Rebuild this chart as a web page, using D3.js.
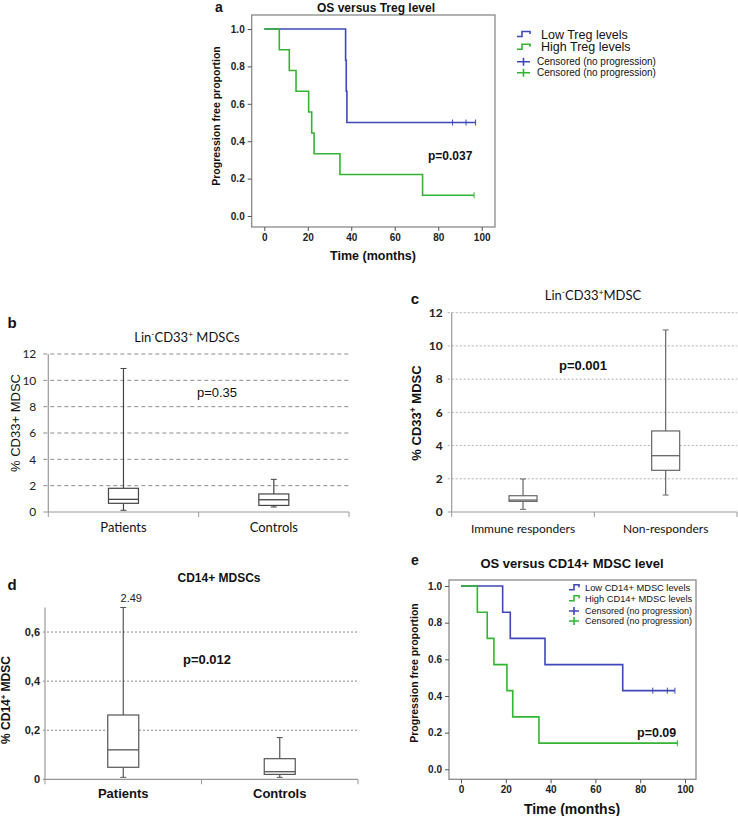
<!DOCTYPE html>
<html>
<head>
<meta charset="utf-8">
<script src="https://cdn.jsdelivr.net/npm/d3@7"></script>
<style>
  body { margin: 0; background: #fff; }
  svg { display: block; }
</style>
</head>
<body>
<script>
// ---- panel a: Kaplan-Meier, Treg level ----
const lowTregTime = [0, 37.4, 37.7, 38.0, 97.2];
const lowTregSurv = [1, 0.833, 0.667, 0.5, 0.5];
const lowTregCensor = [86.6, 92.8, 97.2];
const highTregTime = [0, 6.9, 11.5, 14.6, 20.4, 21.8, 22.9, 34.8, 72.8, 96.5];
const highTregSurv = [1, 0.889, 0.778, 0.667, 0.556, 0.444, 0.333, 0.222, 0.111, 0.111];
const highTregCensor = [96.5];

// ---- panel e: Kaplan-Meier, CD14+ MDSC level ----
const lowCd14Time = [0, 18.6, 22.0, 37.5, 72.2, 95.5];
const lowCd14Surv = [1, 0.857, 0.714, 0.571, 0.429, 0.429];
const lowCd14Censor = [85.6, 92.1, 95.5];
const highCd14Time = [0, 7.3, 11.7, 14.7, 20.5, 23.1, 34.8, 96.6];
const highCd14Surv = [1, 0.857, 0.714, 0.571, 0.429, 0.286, 0.143, 0.143];
const highCd14Censor = [96.6];

const kmTicksX = [0, 20, 40, 60, 80, 100];
const kmTicksY = [0, 0.2, 0.4, 0.6, 0.8, 1.0];

// ---- panel b: Lin-CD33+ MDSCs, patients vs controls ----
const cd33Groups = ["Patients", "Controls"];
const cd33Min = [0.13, 0.38];
const cd33Q1 = [0.66, 0.5];
const cd33Med = [0.96, 0.93];
const cd33Q3 = [1.8, 1.37];
const cd33Max = [10.9, 2.48];

// ---- panel c: Lin-CD33+ MDSC, responders ----
const respGroups = ["Immune responders", "Non-responders"];
const respMin = [0.16, 1.02];
const respQ1 = [0.64, 2.51];
const respMed = [0.72, 3.39];
const respQ3 = [0.98, 4.88];
const respMax = [1.99, 10.96];

const cd33TicksY = [0, 2, 4, 6, 8, 10, 12];

// ---- panel d: CD14+ MDSCs ----
const cd14Groups = ["Patients", "Controls"];
const cd14Min = [0.008, 0.008];
const cd14Q1 = [0.049, 0.02];
const cd14Med = [0.12, 0.031];
const cd14Q3 = [0.262, 0.084];
const cd14Max = [2.49, 0.17];
const cd14TicksY = [0, 0.2, 0.4, 0.6];

const BLUE = "#3f48b8";
const GREEN = "#33b533";
const ARIAL = "'Liberation Sans', Arial, sans-serif";
const CALIBRI = "Lato, 'Open Sans', sans-serif";

const svg = d3.select("body").append("svg")
  .attr("width", 738)
  .attr("height", 816);

// text helper; parts can be strings or [text] for a superscript
function label(g, x, y, parts, opts) {
  const t = g.append("text")
    .attr("x", x).attr("y", y)
    .attr("font-family", opts.font || ARIAL)
    .attr("font-size", opts.size || 12)
    .attr("font-weight", opts.bold ? "bold" : "normal")
    .attr("fill", opts.color || "#111")
    .attr("text-anchor", opts.anchor || "middle");
  if (opts.rotate) t.attr("transform", `rotate(-90,${x},${y})`);
  (Array.isArray(parts) ? parts : [parts]).forEach(p => {
    if (Array.isArray(p)) {
      t.append("tspan").attr("baseline-shift", "super")
        .attr("font-size", (opts.size || 12) * 0.65).text(p[0]);
    } else {
      t.append("tspan").text(p);
    }
  });
  return t;
}

function kmPanel(cfg) {
  const g = svg.append("g");
  const x = d3.scaleLinear().domain([0, 100]).range(cfg.xRange);
  const y = d3.scaleLinear().domain([0, 1]).range(cfg.yRange);

  // frame
  g.append("rect")
    .attr("x", cfg.frame[0]).attr("y", cfg.frame[1])
    .attr("width", cfg.frame[2] - cfg.frame[0])
    .attr("height", cfg.frame[3] - cfg.frame[1])
    .attr("fill", "none").attr("stroke", "#8a8a8a").attr("stroke-width", 1.3);

  const ax = g.append("g")
    .attr("transform", `translate(0,${cfg.frame[3]})`)
    .call(d3.axisBottom(x).tickValues(kmTicksX).tickSize(4).tickPadding(3));
  const ay = g.append("g")
    .attr("transform", `translate(${cfg.frame[0]},0)`)
    .call(d3.axisLeft(y).tickValues(kmTicksY).tickFormat(d3.format(".1f")).tickSize(4).tickPadding(3));
  [ax, ay].forEach(a => {
    a.select(".domain").remove();
    a.selectAll("line").attr("stroke", "#555");
    a.selectAll("text").attr("font-family", ARIAL).attr("font-size", cfg.tickSize)
      .attr("font-weight", "bold").attr("fill", "#222");
  });

  const line = d3.line().x(d => x(d[0])).y(d => y(d[1])).curve(d3.curveStepAfter);
  cfg.series.forEach(s => {
    const pts = s.time.map((t, i) => [t, s.surv[i]]);
    g.append("path").attr("d", line(pts))
      .attr("fill", "none").attr("stroke", s.color).attr("stroke-width", 1.6);
    const last = s.surv[s.surv.length - 1];
    g.selectAll(null).data(s.censor).enter().append("line")
      .attr("x1", d => x(d)).attr("x2", d => x(d))
      .attr("y1", y(last) - 3).attr("y2", y(last) + 3)
      .attr("stroke", s.color).attr("stroke-width", 1);
  });

  // legend
  const lg = cfg.legend;
  cfg.series.forEach((s, i) => {
    const cy = lg.rows[i];
    g.append("path")
      .attr("d", `M${lg.x0},${cy + 2.5}H${lg.x0 + 5}V${cy - 2.5}H${lg.x1}V${cy}`)
      .attr("fill", "none").attr("stroke", s.color).attr("stroke-width", 1.6);
    label(g, lg.tx, cy + lg.size1 * 0.36, s.name, { size: lg.size1, anchor: "start" });
  });
  cfg.series.forEach((s, i) => {
    const cy = lg.rows[i + 2];
    g.append("path")
      .attr("d", `M${lg.x0},${cy}H${lg.x1}M${(lg.x0 + lg.x1) / 2},${cy - 4}V${cy + 4}`)
      .attr("fill", "none").attr("stroke", s.color).attr("stroke-width", 1.6);
    label(g, lg.tx2, cy + lg.size2 * 0.36, "Censored (no progression)", { size: lg.size2, anchor: "start" });
  });

  label(g, cfg.title[0], cfg.title[1], cfg.title[2], { size: cfg.title[3], bold: true });
  label(g, cfg.letter[0], cfg.letter[1], cfg.letter[2], { size: 14, bold: true });
  label(g, cfg.p[0], cfg.p[1], cfg.p[2], { size: cfg.p[3], bold: true, anchor: "start" });
  label(g, cfg.xLabel[0], cfg.xLabel[1], "Time (months)", { size: cfg.xLabel[2], bold: true });
  label(g, cfg.yLabel[0], cfg.yLabel[1], "Progression free proportion", { size: 10.5, bold: true, rotate: true });
}

function boxPanel(cfg) {
  const g = svg.append("g");
  const x = d3.scaleBand().domain(cfg.groups).range(cfg.xRange);
  const y = d3.scaleLinear().domain(cfg.yDomain).range(cfg.yRange);
  const x0 = cfg.xRange[0], x1 = cfg.xRange[1];

  // grid + y ticks
  g.selectAll(null).data(cfg.ticks.filter(d => d > 0)).enter().append("line")
    .attr("x1", x0 - cfg.tick).attr("x2", x1)
    .attr("y1", d => y(d)).attr("y2", d => y(d))
    .attr("stroke", cfg.gridColor).attr("stroke-dasharray", cfg.dash).attr("stroke-width", 1);
  g.selectAll(null).data(cfg.ticks).enter().append("text")
    .attr("x", x0 - cfg.tick - cfg.pad).attr("y", d => y(d) + cfg.tickFont * 0.36)
    .attr("text-anchor", "end")
    .attr("font-family", cfg.font).attr("font-size", cfg.tickFont)
    .attr("font-weight", cfg.tickBold ? "bold" : "normal").attr("fill", "#222")
    .text(cfg.fmt);

  // axes
  g.append("line").attr("x1", x0).attr("x2", x0).attr("y1", cfg.axisTop).attr("y2", y(0))
    .attr("stroke", "#999").attr("stroke-width", 1.2);
  g.append("line").attr("x1", x0 - cfg.tick).attr("x2", x1).attr("y1", y(0)).attr("y2", y(0))
    .attr("stroke", "#999").attr("stroke-width", 1.2);
  const bounds = [x0].concat(cfg.groups.map(d => x(d) + x.bandwidth()));
  g.selectAll(null).data(bounds).enter().append("line")
    .attr("x1", d => d).attr("x2", d => d).attr("y1", y(0)).attr("y2", y(0) + 5)
    .attr("stroke", "#999");

  // boxes
  const w = cfg.boxW;
  cfg.groups.forEach((grp, i) => {
    const cx = x(grp) + x.bandwidth() / 2;
    const hi = Math.min(cfg.max[i], cfg.yDomain[1]);
    g.append("line").attr("x1", cx).attr("x2", cx)
      .attr("y1", y(hi)).attr("y2", y(cfg.q3[i])).attr("stroke", cfg.boxColor).attr("stroke-width", 1.2);
    g.append("line").attr("x1", cx).attr("x2", cx)
      .attr("y1", y(cfg.q1[i])).attr("y2", y(cfg.min[i])).attr("stroke", cfg.boxColor).attr("stroke-width", 1.2);
    [hi, cfg.min[i]].forEach(v => {
      g.append("line").attr("x1", cx - 3).attr("x2", cx + 3)
        .attr("y1", y(v)).attr("y2", y(v)).attr("stroke", cfg.boxColor).attr("stroke-width", 1);
    });
    g.append("rect")
      .attr("x", cx - w / 2).attr("width", w)
      .attr("y", y(cfg.q3[i])).attr("height", y(cfg.q1[i]) - y(cfg.q3[i]))
      .attr("fill", "#fff").attr("stroke", cfg.boxColor).attr("stroke-width", 1.2);
    g.append("line").attr("x1", cx - w / 2).attr("x2", cx + w / 2)
      .attr("y1", y(cfg.med[i])).attr("y2", y(cfg.med[i]))
      .attr("stroke", cfg.boxColor).attr("stroke-width", 1.3);
    if (cfg.max[i] > cfg.yDomain[1]) {
      label(g, cx + 8, y(hi) - 6, String(cfg.max[i]), { size: 11, font: ARIAL, color: "#222" });
    }
    label(g, cx, cfg.catY, grp, { size: cfg.catFont, font: cfg.font, bold: cfg.catBold });
  });

  label(g, cfg.title[0], cfg.title[1], cfg.title[2], { size: cfg.title[3], font: cfg.titleFont, bold: cfg.titleBold });
  label(g, cfg.letter[0], cfg.letter[1], cfg.letter[2], { size: 15, bold: true });
  label(g, cfg.p[0], cfg.p[1], cfg.p[2], { size: 13, font: cfg.pFont, bold: cfg.pBold });
  label(g, cfg.yLabel[0], cfg.yLabel[1], cfg.yLabel[2], { size: cfg.yLabel[3], font: cfg.yFont, bold: cfg.yBold, rotate: true });
}

// panel a
kmPanel({
  xRange: [264.3, 481.7], yRange: [216, 29], frame: [251.7, 15, 495, 227], tickSize: 10,
  series: [
    { name: "Low Treg levels", time: lowTregTime, surv: lowTregSurv, censor: lowTregCensor, color: BLUE },
    { name: "High Treg levels", time: highTregTime, surv: highTregSurv, censor: highTregCensor, color: GREEN }
  ],
  legend: { x0: 517, x1: 530, tx: 541, tx2: 537, rows: [34, 46.7, 61.7, 72.7], size1: 12.5, size2: 10 },
  title: [376, 12, "OS versus Treg level", 12],
  letter: [219, 12, "a"],
  p: [428, 160, "p=0.037", 12],
  xLabel: [373, 260, 12.5],
  yLabel: [220, 116]
});

// panel e
kmPanel({
  xRange: [461, 685], yRange: [769.3, 586], frame: [449, 580, 696, 779.3], tickSize: 10,
  series: [
    { name: "Low CD14+ MDSC levels", time: lowCd14Time, surv: lowCd14Surv, censor: lowCd14Censor, color: BLUE },
    { name: "High CD14+ MDSC levels", time: highCd14Time, surv: highCd14Surv, censor: highCd14Censor, color: GREEN }
  ],
  legend: { x0: 569, x1: 579, tx: 585, tx2: 585, rows: [587.3, 598.3, 611, 621], size1: 9.3, size2: 9 },
  title: [572, 568, "OS versus CD14+ MDSC level", 13],
  letter: [415, 565, "e"],
  p: [637, 737, "p=0.09", 12.5],
  xLabel: [572, 814, 14],
  yLabel: [418, 673]
});

// panel b
boxPanel({
  groups: cd33Groups, min: cd33Min, q1: cd33Q1, med: cd33Med, q3: cd33Q3, max: cd33Max,
  xRange: [48.3, 349], yDomain: [0, 12], yRange: [512, 354], axisTop: 354,
  ticks: cd33TicksY, fmt: d3.format("d"), tick: 5, pad: 7, tickFont: 12, tickBold: false,
  gridColor: "#8c8c8c", dash: "4,3", boxColor: "#444", boxW: 30,
  font: CALIBRI, catY: 532, catFont: 13, catBold: false,
  title: [187, 342, ["Lin", ["-"], "CD33", ["+"], " MDSCs"], 13], titleFont: CALIBRI, titleBold: false,
  letter: [12, 328, "b"],
  p: [217, 397, "p=0.35"], pFont: ARIAL, pBold: false,
  yLabel: [20, 423, "% CD33+ MDSC", 13], yFont: ARIAL, yBold: false
});

// panel c
boxPanel({
  groups: respGroups, min: respMin, q1: respQ1, med: respMed, q3: respQ3, max: respMax,
  xRange: [451.7, 737], yDomain: [0, 12], yRange: [512, 312.7], axisTop: 312.7,
  ticks: cd33TicksY, fmt: d3.format("d"), tick: 4, pad: 5, tickFont: 12, tickBold: true,
  gridColor: "#b0b0b0", dash: "2,2", boxColor: "#666", boxW: 28,
  font: CALIBRI, catY: 533, catFont: 12, catBold: false,
  title: [593, 300, ["Lin", ["-"], "CD33", ["+"], "MDSC"], 13], titleFont: CALIBRI, titleBold: false,
  letter: [415, 304, "c"],
  p: [583, 370, "p=0.001"], pFont: ARIAL, pBold: true,
  yLabel: [421, 413, ["% CD33", ["+"], " MDSC"], 13], yFont: ARIAL, yBold: true
});

// panel d
boxPanel({
  groups: cd14Groups, min: cd14Min, q1: cd14Q1, med: cd14Med, q3: cd14Q3, max: cd14Max,
  xRange: [45, 358], yDomain: [0, 0.7], yRange: [779.3, 607.5], axisTop: 607.5,
  ticks: cd14TicksY, fmt: d => d === 0 ? "0" : d3.format(".1f")(d).replace(".", ","),
  tick: 2, pad: 3, tickFont: 11, tickBold: true,
  gridColor: "#888", dash: "2,2", boxColor: "#555", boxW: 31,
  font: ARIAL, catY: 798, catFont: 13, catBold: true,
  title: [219, 582, "CD14+ MDSCs", 12], titleFont: ARIAL, titleBold: true,
  letter: [12, 590, "d"],
  p: [207, 664, "p=0.012"], pFont: ARIAL, pBold: true,
  yLabel: [10, 700, ["% CD14", ["+"], " MDSC"], 12], yFont: ARIAL, yBold: true
});
</script>
</body>
</html>
